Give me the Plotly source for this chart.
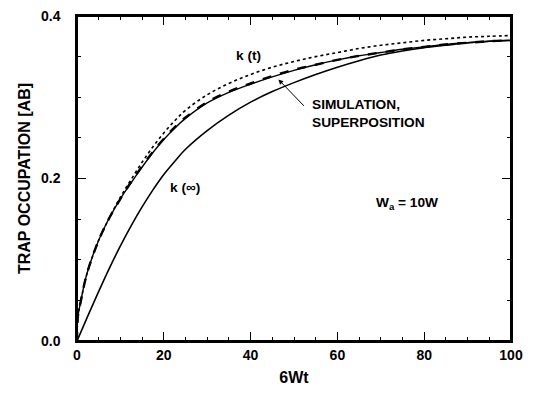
import plotly.graph_objects as go

# x grid for the upper curves (6Wt)
x_upper = [0, 0.2, 0.8, 2.3, 5, 7.5, 10, 12.5, 15, 17.5, 20, 22.5, 25, 30, 35, 40,
           45, 50, 55, 60, 65, 70, 75, 80, 85, 90, 95, 100]
# simulation (dashed)
y_simulation = [0, 0.030, 0.047, 0.083, 0.124, 0.152, 0.175, 0.196, 0.215, 0.233,
                0.249, 0.263, 0.275, 0.294, 0.307, 0.317, 0.326, 0.334, 0.340,
                0.346, 0.351, 0.355, 0.359, 0.362, 0.365, 0.367, 0.369, 0.370]
# superposition (solid, nearly coincident with simulation)
y_superposition = [0, 0.030, 0.047, 0.083, 0.124, 0.152, 0.175, 0.195, 0.214, 0.232,
                   0.248, 0.262, 0.274, 0.293, 0.306, 0.316, 0.325, 0.333, 0.340,
                   0.346, 0.351, 0.355, 0.359, 0.362, 0.365, 0.367, 0.369, 0.370]
# k(t) (dotted)
y_kt = [0, 0.030, 0.047, 0.083, 0.124, 0.152, 0.177, 0.199, 0.220, 0.239, 0.256,
        0.271, 0.284, 0.303, 0.317, 0.328, 0.337, 0.344, 0.350, 0.355, 0.360,
        0.364, 0.367, 0.370, 0.372, 0.374, 0.375, 0.376]
# k(inf) (solid)
x_kinf = [0, 2.5, 5, 7.5, 10, 12.5, 15, 17.5, 20, 22.5, 25, 30, 35, 40, 45, 50, 55,
          60, 65, 70, 75, 80, 85, 90, 95, 100]
y_kinf = [0, 0.031, 0.061, 0.090, 0.117, 0.142, 0.165, 0.186, 0.205, 0.221, 0.236,
          0.259, 0.278, 0.294, 0.307, 0.318, 0.328, 0.337, 0.345, 0.352, 0.357,
          0.361, 0.364, 0.367, 0.369, 0.370]

x_ticks = [0, 20, 40, 60, 80, 100]
y_ticks = [0.0, 0.2, 0.4]
y_tick_labels = ["0.0", "0.2", "0.4"]

FONT = "Liberation Sans, Arial, Helvetica, sans-serif"
PAD = "\u00a0\u00a0\u00a0"

fig = go.Figure()
fig.add_trace(go.Scatter(x=x_kinf, y=y_kinf, mode="lines", line=dict(color="black", width=1.6, shape="spline")))
fig.add_trace(go.Scatter(x=x_upper, y=y_superposition, mode="lines", line=dict(color="black", width=1.4, shape="spline")))
fig.add_trace(go.Scatter(x=x_upper, y=y_simulation, mode="lines", line=dict(color="black", width=2.4, dash="dash", shape="spline")))
fig.add_trace(go.Scatter(x=x_upper, y=y_kt, mode="lines", line=dict(color="black", width=1.6, dash="dot", shape="spline")))

ann_font = dict(family=FONT, size=13.7, color="black", weight="bold")
fig.add_annotation(x=39.4, y=0.351, text="k (t)", showarrow=False, font=ann_font)
fig.add_annotation(x=24.8, y=0.189, text="k (∞)", showarrow=False, font=ann_font)
fig.add_annotation(x=53.7, y=0.280, text="SIMULATION,<br>SUPERPOSITION", showarrow=False,
                   xanchor="left", align="left", font=ann_font)
fig.add_annotation(x=76, y=0.169, text="W<sub>a</sub> = 10W", showarrow=False, font=ann_font)
fig.add_annotation(x=46.4, y=0.322, ax=27, ay=28, text="", showarrow=True,
                   arrowhead=2, arrowsize=1, arrowwidth=1, arrowcolor="black")

# plot frame
fig.add_shape(type="rect", xref="paper", yref="paper", x0=0, x1=1, y0=0, y1=1,
              line=dict(color="black", width=2), layer="above")

axis_common = dict(
    showline=True, linewidth=2, linecolor="black", mirror="ticks",
    ticks="inside", tickwidth=1.2, tickcolor="black", ticklen=9,
    showgrid=False, zeroline=False, automargin=False, ticklabeloverflow="allow",
    tickfont=dict(family=FONT, size=14, color="black", weight="bold"),
)
fig.update_xaxes(range=[0, 100], tickvals=x_ticks,
                 minor=dict(ticks="inside", dtick=5, ticklen=4, tickcolor="black", tickwidth=1),
                 title=dict(text="6Wt", font=dict(family=FONT, size=16, color="black", weight="bold"), standoff=10),
                 **axis_common)
fig.update_yaxes(range=[0, 0.4], tickvals=y_ticks, ticktext=[t + PAD for t in y_tick_labels],
                 minor=dict(ticks="inside", dtick=0.05, ticklen=4, tickcolor="black", tickwidth=1),
                 title=dict(text="TRAP OCCUPATION [AB]", font=dict(family=FONT, size=16, color="black", weight="bold"), standoff=6),
                 **axis_common)

fig.update_layout(width=533, height=392, showlegend=False,
                  margin=dict(l=69, r=30, t=8, b=59),
                  plot_bgcolor="white", paper_bgcolor="white")
fig.write_html("out.html")
